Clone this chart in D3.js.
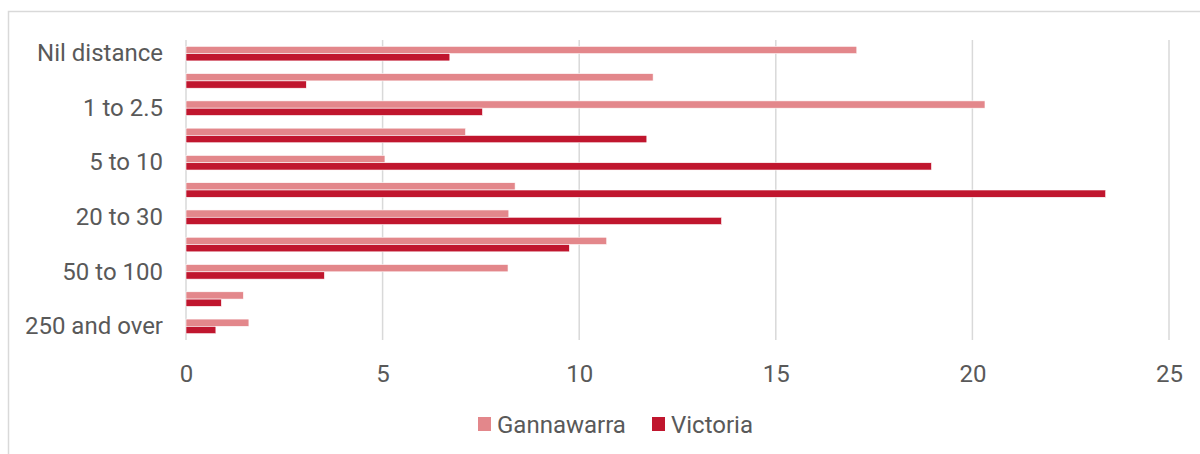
<!DOCTYPE html>
<html>
<head>
<meta charset="utf-8">
<script src="https://cdn.jsdelivr.net/npm/d3@7"></script>
<style>
  html, body { margin: 0; padding: 0; background: #fff; }
  svg { display: block; }
  text { font-family: Roboto, "Liberation Sans", sans-serif; fill: #595959; }
</style>
</head>
<body>
<svg id="chart" width="1200" height="454"></svg>
<script>
const categories = ["Nil distance", "Less than 1", "1 to 2.5", "2.5 to 5", "5 to 10", "10 to 20",
  "20 to 30", "30 to 50", "50 to 100", "100 to 250", "250 and over"];
const seriesNames = ["Gannawarra", "Victoria"];
const gannawarra = [17.06, 11.88, 20.32, 7.11, 5.06, 8.37, 8.21, 10.70, 8.19, 1.46, 1.60];
const victoria   = [6.71, 3.06, 7.54, 11.72, 18.96, 23.39, 13.62, 9.75, 3.52, 0.90, 0.76];
const xTicks = [0, 5, 10, 15, 20, 25];
const colors = ["#e3878b", "#c0162e"];

(function () {
const svg = d3.select("#chart");
const fs = "24px";

// outer frame
svg.append("rect").attr("x", 8.5).attr("y", 11.5).attr("width", 1220).attr("height", 470)
  .attr("fill", "none").attr("stroke", "#d9d9d9").attr("stroke-width", 1.5);

const pLeft = 186, pRight = 1169, pTop = 40, pBottom = 340;

const x = d3.scaleLinear().domain([0, 25]).range([pLeft, pRight]);
const y = d3.scaleBand().domain(categories).range([pTop, pBottom])
  .paddingInner(0.465).paddingOuter(0.2325);
const ys = d3.scaleBand().domain(seriesNames).range([0, y.bandwidth()]);

// grid
svg.append("g").selectAll("line").data(xTicks).join("line")
  .attr("x1", d => x(d)).attr("x2", d => x(d))
  .attr("y1", pTop).attr("y2", pBottom)
  .attr("stroke", "#d9d9d9").attr("stroke-width", 1.5);

// bars
const data = categories.map((c, i) => ({ c, vals: [gannawarra[i], victoria[i]] }));
const groups = svg.append("g").selectAll("g").data(data).join("g")
  .attr("transform", d => `translate(0,${y(d.c)})`);
groups.selectAll("rect").data(d => d.vals.map((v, k) => ({ v, k })))
  .join("rect")
  .attr("x", x(0))
  .attr("y", d => ys(seriesNames[d.k]))
  .attr("width", d => x(d.v) - x(0))
  .attr("height", ys.bandwidth())
  .attr("fill", d => colors[d.k])
  .attr("stroke", "#fff").attr("stroke-width", 0.6);

// y axis labels (every other category)
const yAxis = d3.axisLeft(y).tickSize(0).tickPadding(23)
  .tickFormat((d, i) => i % 2 === 0 ? d : "");
const gy = svg.append("g").attr("transform", `translate(${pLeft},0)`).call(yAxis);
gy.select(".domain").remove();
gy.selectAll("text").style("font-size", fs).attr("fill", "#595959")
  .style("font-family", "Roboto, sans-serif");

// x axis labels
const xAxis = d3.axisBottom(x).tickValues(xTicks).tickSize(0).tickPadding(0);
const gx = svg.append("g").attr("transform", `translate(0,${pBottom + 24.5})`).call(xAxis);
gx.select(".domain").remove();
gx.selectAll("text").style("font-size", fs).attr("fill", "#595959")
  .style("font-family", "Roboto, sans-serif");

// legend
const legend = svg.append("g").attr("transform", "translate(478,424)");
const legendX = [0, 174];
seriesNames.forEach((s, i) => {
  const g = legend.append("g").attr("transform", `translate(${legendX[i]},0)`);
  g.append("rect").attr("x", 0).attr("y", -7).attr("width", 13).attr("height", 14).attr("fill", colors[i]);
  g.append("text").attr("x", 19).attr("y", 0).attr("dy", "0.36em")
    .style("font-size", fs).text(s);
});
})();
</script>
</body>
</html>
